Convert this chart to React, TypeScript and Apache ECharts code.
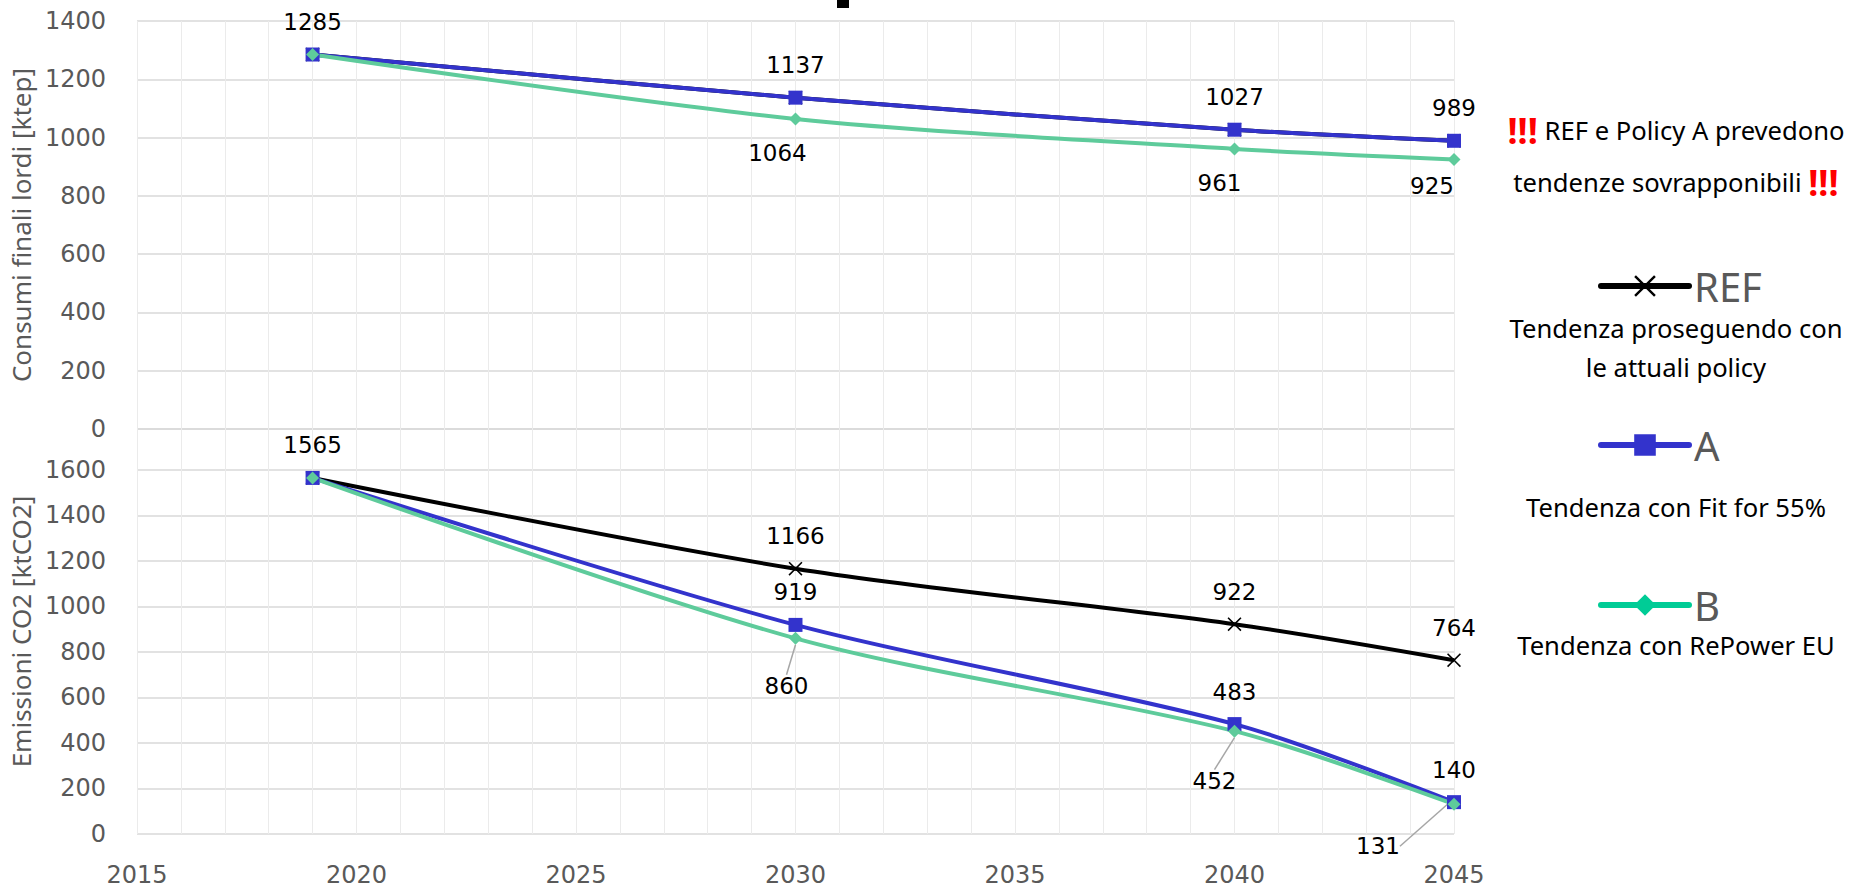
import React, { useEffect, useRef } from 'react';
import * as echarts from 'echarts';

// ---- data ----
const years = [2019, 2030, 2040, 2045];
const consumiREF = [1285, 1137, 1027, 989];
const consumiA = [1285, 1137, 1027, 989];
const consumiB = [1285, 1064, 961, 925];
const emissioniREF = [1565, 1166, 922, 764];
const emissioniA = [1565, 919, 483, 140];
const emissioniB = [1565, 860, 452, 131];
const xMin = 2015;
const xMax = 2045;
const xStep = 5;
const topYMax = 1400;
const bottomYMax = 1780;
const yStep = 200;
const seriesNames = ['REF', 'A', 'B'];
const seriesDesc = ['Tendenza proseguendo con', 'le attuali policy', 'Tendenza con Fit for 55%', 'Tendenza con RePower EU'];
const noteLine1 = ' REF e Policy A prevedono';
const noteLine2 = 'tendenze sovrapponibili ';
const yNameTop = 'Consumi finali lordi [ktep]';
const yNameBottom = 'Emissioni CO2 [ktCO2]';

// ---- styles ----
const BLACK = '#000000';
const BLUE = '#3333CC';
const GREEN = '#5ECB9B';
const GREEN_LEGEND = '#00CC96';
const GRAY = '#595959';
const X_PATH = 'path://M0,0.8L0.8,0L5,4.2L9.2,0L10,0.8L5.8,5L10,9.2L9.2,10L5,5.8L0.8,10L0,9.2L4.2,5Z';
const labelFont = { fontFamily: 'DejaVu Sans', fontSize: 23, color: '#000' };
const axisFont = { fontFamily: 'DejaVu Sans', fontSize: 24, color: GRAY };

// label layout offsets (style only) for bottom B labels with leader lines
const bottomBOffsets: (number[] | null)[] = [null, [-9, 48], [-20, 50], [-76, 42]];
const topBOffsets: (number[] | null)[] = [null, [-18, 0], [-15, 0], [-22, -7]];

function pts(vals: number[], labelIdx: number[], labelExtra?: (i: number) => any) {
  return years.map((x, i) => ({
    value: [x, vals[i]],
    label: labelIdx.indexOf(i) >= 0 ? { show: true, ...(labelExtra ? labelExtra(i) : {}) } : { show: false },
  }));
}

export default function App() {
  const ref = useRef<HTMLDivElement>(null);
  useEffect(() => {
    if (!ref.current) return;
    const chart = echarts.init(ref.current, undefined, { renderer: 'svg' });

    const gridLeft = 133;
    const gridRight = 402;
    const hLine = { show: true, lineStyle: { color: '#D9D9D9', width: 1.5 } };
    const vLine = { show: true, lineStyle: { color: '#EBEBEB', width: 1 } };

    const xAxisBase = {
      type: 'value',
      min: xMin,
      max: xMax,
      interval: xStep,
      axisLine: { show: false },
      axisTick: { show: false },
      splitLine: vLine,
      minorTick: { show: false, splitNumber: 5 },
      minorSplitLine: vLine,
    };

    const lineCommon = {
      type: 'line',
      smooth: 0.3,
      lineStyle: { width: 4 },
      label: { ...labelFont },
    };

    const plain = (v: number) => String(v);

    const option: any = {
      animation: false,
      backgroundColor: '#fff',
      grid: [
        { left: gridLeft, right: gridRight, top: 21, height: 408 },
        { left: gridLeft, right: gridRight, top: 429, height: 405 },
      ],
      xAxis: [
        { ...xAxisBase, gridIndex: 0, axisLabel: { show: false } },
        {
          ...xAxisBase,
          gridIndex: 1,
          axisLabel: { show: true, margin: 29, ...axisFont, formatter: plain },
        },
      ],
      yAxis: [
        {
          type: 'value',
          gridIndex: 0,
          min: 0,
          max: topYMax,
          interval: yStep,
          axisLine: { show: false },
          axisTick: { show: false },
          splitLine: hLine,
          axisLabel: { margin: 31, ...axisFont, formatter: plain },
          name: yNameTop,
          nameLocation: 'middle',
          nameGap: 96,
          nameTextStyle: { color: GRAY, fontSize: 26, fontFamily: 'Noto Sans' },
        },
        {
          type: 'value',
          gridIndex: 1,
          min: 0,
          max: bottomYMax,
          interval: yStep,
          axisLine: { show: false },
          axisTick: { show: false },
          splitLine: hLine,
          axisLabel: { margin: 31, showMaxLabel: false, ...axisFont, formatter: plain },
          name: yNameBottom,
          nameLocation: 'middle',
          nameGap: 96,
          nameTextStyle: { color: GRAY, fontSize: 26, fontFamily: 'Noto Sans' },
        },
      ],
      legend: seriesNames.map((n, i) => ({
        data: [
          {
            name: n,
            itemStyle: { color: [BLACK, BLUE, GREEN_LEGEND][i] },
            lineStyle: { color: [BLACK, BLUE, GREEN_LEGEND][i], width: 6, cap: 'round' },
          },
        ],
        left: 1598,
        top: [266, 425, 585][i],
        padding: 0,
        itemWidth: 88,
        itemHeight: 27,
        selectedMode: false,
        textStyle: { fontSize: 40, color: GRAY, fontFamily: 'Noto Sans' },
      })),
      series: [
        {
          ...lineCommon,
          name: 'REF',
          xAxisIndex: 0,
          yAxisIndex: 0,
          symbol: X_PATH,
          symbolSize: 14,
          itemStyle: { color: BLACK },
          lineStyle: { width: 4, color: BLACK },
          data: pts(consumiREF, []),
        },
        {
          ...lineCommon,
          name: 'A',
          xAxisIndex: 0,
          yAxisIndex: 0,
          symbol: 'rect',
          symbolSize: 14,
          itemStyle: { color: BLUE },
          lineStyle: { width: 4, color: BLUE },
          label: { ...labelFont, position: 'top', distance: 14 },
          data: pts(consumiA, [0, 1, 2, 3]),
        },
        {
          ...lineCommon,
          name: 'B',
          xAxisIndex: 0,
          yAxisIndex: 0,
          symbol: 'diamond',
          symbolSize: 13,
          itemStyle: { color: GREEN },
          lineStyle: { width: 4, color: GREEN },
          label: { ...labelFont, position: 'bottom', distance: 16 },
          data: pts(consumiB, [1, 2, 3], (i) => ({ offset: topBOffsets[i] })),
        },
        {
          ...lineCommon,
          name: 'REF',
          xAxisIndex: 1,
          yAxisIndex: 1,
          symbol: X_PATH,
          symbolSize: 14,
          itemStyle: { color: BLACK },
          lineStyle: { width: 4, color: BLACK },
          label: { ...labelFont, position: 'top', distance: 14 },
          data: pts(emissioniREF, [0, 1, 2, 3]),
        },
        {
          ...lineCommon,
          name: 'A',
          xAxisIndex: 1,
          yAxisIndex: 1,
          symbol: 'rect',
          symbolSize: 14,
          itemStyle: { color: BLUE },
          lineStyle: { width: 4, color: BLUE },
          label: { ...labelFont, position: 'top', distance: 14 },
          data: pts(emissioniA, [1, 2, 3]),
        },
        {
          ...lineCommon,
          name: 'B',
          xAxisIndex: 1,
          yAxisIndex: 1,
          symbol: 'diamond',
          symbolSize: 13,
          itemStyle: { color: GREEN },
          lineStyle: { width: 4, color: GREEN },
          label: { ...labelFont, position: 'inside' },
          labelLine: { show: true, lineStyle: { color: '#A6A6A6', width: 1.5 } },
          labelLayout: (p: any) => {
            const o = bottomBOffsets[p.dataIndex];
            return o ? { dx: o[0], dy: o[1] } : {};
          },
          data: pts(emissioniB, [1, 2, 3]),
        },
      ],
      graphic: [
        { type: 'rect', shape: { x: 837, y: 0, width: 12, height: 8 }, style: { fill: '#000' }, silent: true },
        {
          type: 'text',
          x: 1676,
          y: 130,
          style: {
            text: '{r|!!!}' + noteLine1,
            rich: { r: { fill: '#FF0000', fontSize: 36, fontWeight: 'bold', fontFamily: 'Noto Sans' } },
            fill: '#000',
            fontSize: 25.6,
            fontFamily: 'Noto Sans',
            align: 'center',
            verticalAlign: 'middle',
          },
        },
        {
          type: 'text',
          x: 1676,
          y: 182,
          style: {
            text: noteLine2 + '{r|!!!}',
            rich: { r: { fill: '#FF0000', fontSize: 36, fontWeight: 'bold', fontFamily: 'Noto Sans' } },
            fill: '#000',
            fontSize: 25.6,
            fontFamily: 'Noto Sans',
            align: 'center',
            verticalAlign: 'middle',
          },
        },
        ...[
          [seriesDesc[0], 328],
          [seriesDesc[1], 367],
          [seriesDesc[2], 507],
          [seriesDesc[3], 645],
        ].map(([t, y]) => ({
          type: 'text',
          x: 1676,
          y: y as number,
          style: {
            text: t as string,
            fill: '#000',
            fontSize: 25.6,
            fontFamily: 'Noto Sans',
            align: 'center',
            verticalAlign: 'middle',
          },
        })),
      ],
    };

    chart.setOption(option);
    return () => chart.dispose();
  }, []);

  return (
    <div
      ref={ref}
      style={{ position: 'fixed', left: 0, top: 0, width: 1856, height: 890, background: '#fff' }}
    />
  );
}
